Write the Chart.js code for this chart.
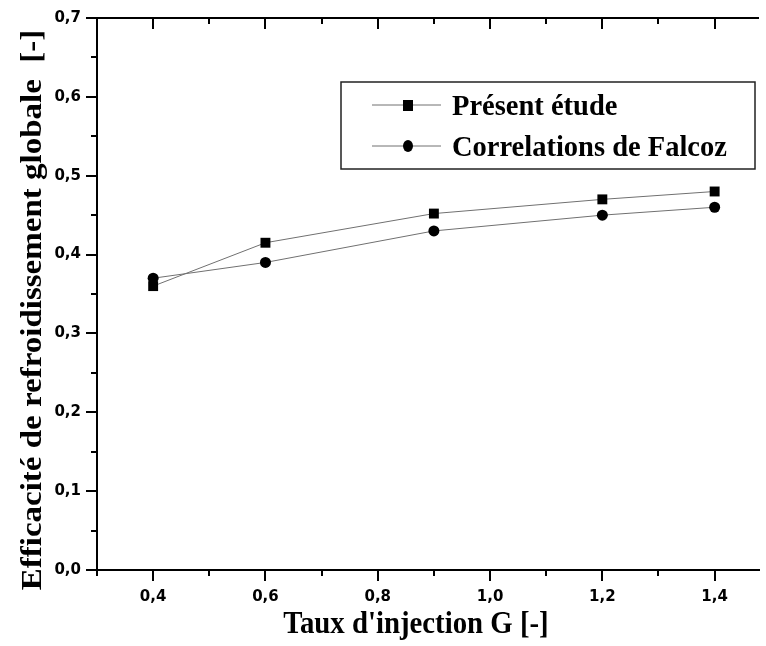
<!DOCTYPE html>
<html>
<head>
<meta charset="utf-8">
<script src="https://cdn.jsdelivr.net/npm/chart.js@4.4.1/dist/chart.umd.min.js"></script>
<style>
  html, body { margin: 0; padding: 0; background: #fff; overflow: hidden; }
  #wrap { width: 766px; height: 646px; }
</style>
</head>
<body>
<div id="wrap"><canvas id="c" width="766" height="646"></canvas></div>
<script>
// Injection rate G [-]
const injectionRates = [0.4, 0.6, 0.9, 1.2, 1.4];
// Overall cooling effectiveness [-]
const presentStudy = [0.36, 0.415, 0.452, 0.47, 0.48];
const falcozCorrelation = [0.37, 0.39, 0.43, 0.45, 0.46];
// Axis ticks
const xMajorTicks = [0.4, 0.6, 0.8, 1.0, 1.2, 1.4];
const xMinorTicks = [0.3, 0.5, 0.7, 0.9, 1.1, 1.3];
const yMajorTicks = [0.0, 0.1, 0.2, 0.3, 0.4, 0.5, 0.6, 0.7];
const yMinorTicks = [0.05, 0.15, 0.25, 0.35, 0.45, 0.55, 0.65];
const seriesNames = ['Présent étude', 'Correlations de Falcoz'];
const xTitle = "Taux d'injection G [-]";
const yTitle = 'Efficacité de refroidissement globale  [-]';

const toPoints = (xs, ys) => xs.map((x, i) => ({ x: x, y: ys[i] }));

const LINE_COLOR = '#707070';
const MARK_COLOR = '#000';
const TICK_FONT = { family: '"DejaVu Sans", sans-serif', size: 15, weight: 'bold' };
const TITLE_FONT = 'bold 32px "Liberation Serif", "Times New Roman", serif';
const YTITLE_FONT = 'bold 33px "Liberation Serif", "Times New Roman", serif';
const LEGEND_FONT = 'bold 30px "Liberation Serif", "Times New Roman", serif';
const NARROW = 0.9; // horizontal squeeze of the serif captions
const LEGEND_NARROW = 0.95;

// Minor ticks, inward top-axis ticks, axis titles and the boxed legend
const decorations = {
  id: 'decorations',
  afterDraw(chart) {
    const ctx = chart.ctx;
    const xs = chart.scales.x, ys = chart.scales.y;
    const area = chart.chartArea;
    ctx.save();
    ctx.strokeStyle = '#000';
    ctx.lineWidth = 2;
    ctx.lineCap = 'butt';

    // top axis line
    ctx.beginPath();
    ctx.moveTo(area.left - 1, area.top);
    ctx.lineTo(area.right, area.top);
    ctx.stroke();

    // top axis ticks (inward)
    xMajorTicks.forEach(v => {
      const px = Math.round(xs.getPixelForValue(v));
      ctx.beginPath(); ctx.moveTo(px, area.top); ctx.lineTo(px, area.top + 11); ctx.stroke();
    });
    xMinorTicks.forEach(v => {
      const px = Math.round(xs.getPixelForValue(v));
      ctx.beginPath(); ctx.moveTo(px, area.top); ctx.lineTo(px, area.top + 6); ctx.stroke();
    });
    // bottom minor ticks (outward)
    xMinorTicks.forEach(v => {
      const px = Math.round(xs.getPixelForValue(v));
      ctx.beginPath(); ctx.moveTo(px, area.bottom); ctx.lineTo(px, area.bottom + 6); ctx.stroke();
    });
    // left minor ticks (outward)
    yMinorTicks.forEach(v => {
      const py = Math.round(ys.getPixelForValue(v));
      ctx.beginPath(); ctx.moveTo(area.left, py); ctx.lineTo(area.left - 6, py); ctx.stroke();
    });

    // axis titles
    ctx.fillStyle = '#000';
    ctx.textAlign = 'center';
    ctx.textBaseline = 'alphabetic';
    ctx.font = TITLE_FONT;
    ctx.save();
    ctx.translate(416, 633);
    ctx.scale(NARROW, 1);
    ctx.fillText(xTitle, 0, 0);
    ctx.restore();

    ctx.font = YTITLE_FONT;
    ctx.save();
    ctx.translate(41, 310);
    ctx.rotate(-Math.PI / 2);
    ctx.scale(1, NARROW);
    ctx.fillText(yTitle, 0, 0);
    ctx.restore();

    // legend box
    const bx = 341, by = 82, bw = 414, bh = 87;
    ctx.lineWidth = 1.5;
    ctx.strokeStyle = '#222';
    ctx.strokeRect(bx, by, bw, bh);
    ctx.font = LEGEND_FONT;
    ctx.textAlign = 'left';
    ctx.textBaseline = 'alphabetic';
    const rows = [by + 23, by + 64];
    chart.data.datasets.forEach((ds, i) => {
      const y = rows[i];
      ctx.strokeStyle = LINE_COLOR;
      ctx.lineWidth = 1;
      ctx.beginPath(); ctx.moveTo(372, y); ctx.lineTo(441, y); ctx.stroke();
      ctx.fillStyle = MARK_COLOR;
      if (ds.pointStyle === 'rect') {
        ctx.fillRect(403, y - 5, 10, 11);
      } else {
        ctx.beginPath(); ctx.ellipse(408, y, 5, 6, 0, 0, Math.PI * 2); ctx.fill();
      }
      ctx.fillStyle = '#000';
      ctx.save();
      ctx.translate(452, y + 10);
      ctx.scale(LEGEND_NARROW, 1);
      ctx.fillText(seriesNames[i], 0, 0);
      ctx.restore();
    });
    ctx.restore();
  }
};

const axisGrid = {
  display: true,
  drawOnChartArea: false,
  drawTicks: true,
  tickLength: 11,
  color: '#000',
  lineWidth: 2
};

new Chart(document.getElementById('c'), {
  type: 'scatter',
  data: {
    datasets: [
      {
        label: seriesNames[0],
        data: toPoints(injectionRates, presentStudy),
        showLine: true,
        borderColor: LINE_COLOR,
        borderWidth: 1,
        pointStyle: 'rect',
        pointRadius: 7,
        pointBackgroundColor: MARK_COLOR,
        pointBorderWidth: 0,
        pointBorderColor: MARK_COLOR
      },
      {
        label: seriesNames[1],
        data: toPoints(injectionRates, falcozCorrelation),
        showLine: true,
        borderColor: LINE_COLOR,
        borderWidth: 1,
        pointStyle: 'circle',
        pointRadius: 5.5,
        pointBackgroundColor: MARK_COLOR,
        pointBorderWidth: 0,
        pointBorderColor: MARK_COLOR
      }
    ]
  },
  options: {
    responsive: false,
    animation: false,
    events: [],
    layout: { padding: { top: 18, right: 0, left: 0, bottom: 0 } },
    plugins: { legend: { display: false }, tooltip: { enabled: false } },
    scales: {
      x: {
        type: 'linear',
        min: 0.3,
        max: 1.479,
        afterBuildTicks: s => { s.ticks = xMajorTicks.map(v => ({ value: v })); },
        afterFit: s => { s.height = 76; },
        grid: axisGrid,
        border: { display: true, color: '#000', width: 2 },
        ticks: {
          color: '#000',
          font: TICK_FONT,
          padding: 7,
          maxRotation: 0,
          callback: v => v.toFixed(1).replace('.', ',')
        }
      },
      y: {
        type: 'linear',
        min: 0,
        max: 0.7,
        afterBuildTicks: s => { s.ticks = yMajorTicks.map(v => ({ value: v })); },
        afterFit: s => { s.width = 97; },
        grid: axisGrid,
        border: { display: true, color: '#000', width: 2 },
        ticks: {
          color: '#000',
          font: TICK_FONT,
          padding: 5,
          callback: v => v.toFixed(1).replace('.', ',')
        }
      }
    }
  },
  plugins: [decorations]
});
</script>
</body>
</html>
